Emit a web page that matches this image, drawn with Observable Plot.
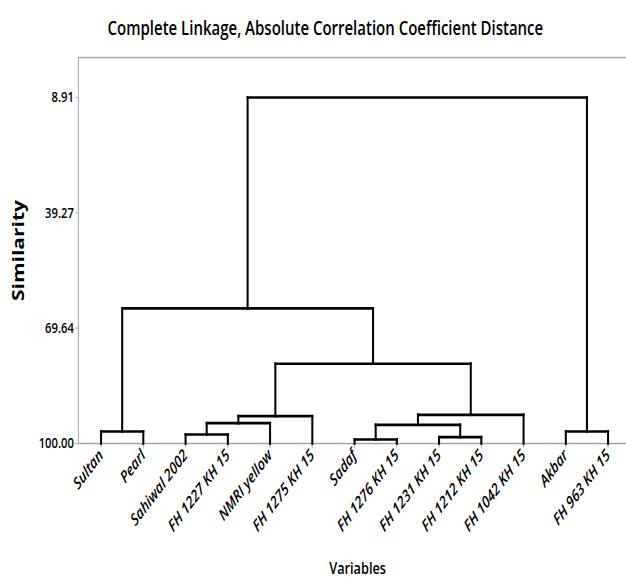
<!DOCTYPE html>
<html>
<head>
<meta charset="utf-8">
<script src="https://cdn.jsdelivr.net/npm/d3@7"></script>
<script src="https://cdn.jsdelivr.net/npm/@observablehq/plot@0.6"></script>
<style>
  html, body { margin: 0; padding: 0; background: #fff; overflow: hidden; }
  #chart { width: 626px; height: 581px; overflow: hidden; }
  /* the reference is a horizontally compressed graph: draw wide, then squeeze */
  #chart svg { display: block; max-width: none !important; height: 581px !important;
    transform: scaleX(0.75); transform-origin: 0 0; }
</style>
</head>
<body>
<div id="chart"></div>
<script>
// ---- data ----
const titleText = "Complete Linkage, Absolute Correlation Coefficient Distance";
const xLabel = "Variables";
const yLabel = "Similarity";

const leaves = ["Sultan", "Pearl", "Sahiwal 2002", "FH 1227 KH 15", "NMRI yellow", "FH 1275 KH 15",
  "Sadaf", "FH 1276 KH 15", "FH 1231 KH 15", "FH 1212 KH 15", "FH 1042 KH 15", "Akbar", "FH 963 KH 15"];

// amalgamation steps: clusters 0..12 are leaves, step k creates cluster 13+k
const mergeLeft  = [6, 8, 2, 0, 11, 13, 15, 19, 18, 20, 16, 23];
const mergeRight = [7, 9, 3, 1, 12, 14, 4, 5, 10, 21, 22, 17];
const mergeSimilarity = [98.95, 98.34, 97.63, 96.84, 96.84, 95.08, 94.66, 92.81, 92.44, 79.0, 64.45, 8.91];

const yTicks = [8.91, 39.27, 69.64, 100.00];

// ---- build segments ----
const nodeX = leaves.map((d, i) => i);
const nodeY = leaves.map(() => 100);
const segs = [];
mergeLeft.forEach((l, k) => {
  const r = mergeRight[k], s = mergeSimilarity[k];
  const xl = nodeX[l], xr = nodeX[r];
  segs.push({x1: xl, y1: nodeY[l], x2: xl, y2: s});
  segs.push({x1: xr, y1: nodeY[r], x2: xr, y2: s});
  segs.push({x1: xl, y1: s, x2: xr, y2: s});
  nodeX.push((xl + xr) / 2);
  nodeY.push(s);
});

const squeeze = 0.75;
const xDomain = [-0.537, 12.433];
const yDomain = [100, -1.62];
const font = "'Open Sans', sans-serif";
const gray = "#a6a6a6";

const chart = Plot.plot({
  width: 626 / squeeze,
  height: 581,
  marginTop: 57,
  marginBottom: 138,
  marginLeft: 78 / squeeze,
  marginRight: 0,
  style: {fontFamily: font, fontSize: "15px", color: "#000", background: "#fff", maxWidth: "none"},
  x: {type: "linear", domain: xDomain},
  y: {type: "linear", domain: yDomain},
  marks: [
    Plot.ruleY([yDomain[0], yDomain[1]], {stroke: gray, strokeWidth: 1.3}),
    Plot.ruleX([xDomain[0]], {stroke: gray, strokeWidth: 1.3}),
    Plot.axisY({ticks: yTicks, tickFormat: d => d.toFixed(2), tickSize: 4, stroke: gray, label: null,
      tickPadding: 2, fontSize: 15, fontWeight: 600, fill: "#000"}),
    Plot.axisX({ticks: d3.range(leaves.length), tickFormat: i => leaves[i], tickSize: 5, stroke: gray,
      tickRotate: -45, label: null, tickPadding: 4, fontSize: 16.5, fontWeight: 600, fontStyle: "italic", fill: "#000"}),
    Plot.link(segs, {x1: "x1", y1: "y1", x2: "x2", y2: "y2", stroke: "#000", strokeWidth: 2.7,
      strokeLinecap: "square"}),
    Plot.text([titleText], {frameAnchor: "top", lineAnchor: "middle", dy: -29, dx: -36,
      fontSize: 20, fontWeight: 600, fill: "#000"}),
    Plot.text([xLabel], {frameAnchor: "bottom", lineAnchor: "middle", dy: 125, dx: 7,
      fontSize: 17, fontWeight: 600, fill: "#000"}),
    Plot.text([yLabel], {frameAnchor: "left", textAnchor: "middle", dx: -79, rotate: -90,
      fontSize: 21, fontWeight: 700, fill: "#000"})
  ]
});
document.getElementById("chart").appendChild(chart);
</script>
</body>
</html>
